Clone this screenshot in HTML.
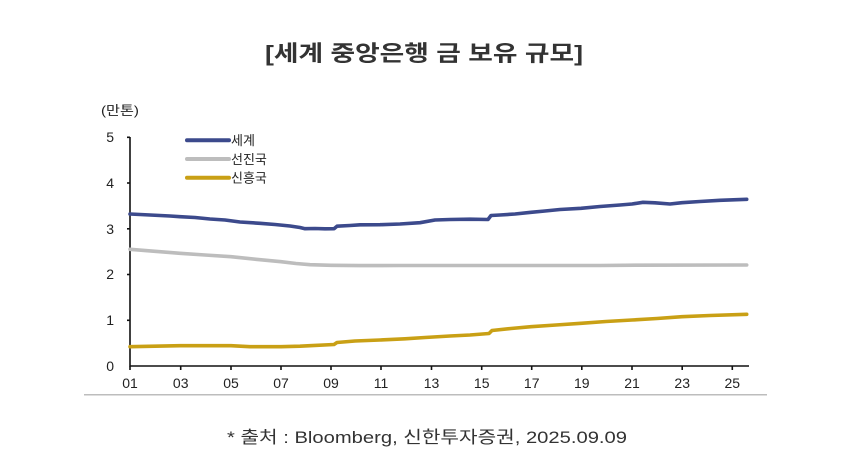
<!DOCTYPE html>
<html>
<head>
<meta charset="utf-8">
<style>
  html,body{margin:0;padding:0;background:#fff;}
  svg{display:block;}
  text{font-family:"Liberation Sans","Noto Sans CJK KR",sans-serif;}
</style>
</head>
<body>
<svg width="854" height="469" viewBox="0 0 854 469" xmlns="http://www.w3.org/2000/svg">
  <rect width="854" height="469" fill="#fff"/>
  <!-- Title -->
  <text x="265" y="61" font-size="22" font-weight="bold" fill="#333" textLength="318" lengthAdjust="spacingAndGlyphs">[세계 중앙은행 금 보유 규모]</text>

  <!-- unit label -->
  <text x="101" y="115" font-size="13" fill="#222" textLength="38" lengthAdjust="spacingAndGlyphs">(만톤)</text>

  <!-- Y tick labels -->
  <g font-size="14" fill="#222" text-anchor="end">
    <text x="114" y="142">5</text>
    <text x="114" y="188">4</text>
    <text x="114" y="234">3</text>
    <text x="114" y="279">2</text>
    <text x="114" y="325">1</text>
    <text x="114" y="371">0</text>
  </g>

  <!-- X tick labels -->
  <g font-size="14" fill="#222" text-anchor="middle">
    <text x="130" y="388">01</text>
    <text x="180.7" y="388">03</text>
    <text x="231" y="388">05</text>
    <text x="281" y="388">07</text>
    <text x="331" y="388">09</text>
    <text x="381" y="388">11</text>
    <text x="431.5" y="388">13</text>
    <text x="481.7" y="388">15</text>
    <text x="531.7" y="388">17</text>
    <text x="581.8" y="388">19</text>
    <text x="632" y="388">21</text>
    <text x="682.2" y="388">23</text>
    <text x="732.3" y="388">25</text>
  </g>

  <!-- Axes -->
  <g stroke="#111" stroke-width="1.6" fill="none">
    <line x1="130" y1="137" x2="130" y2="366.5"/>
    <line x1="129.5" y1="366" x2="749" y2="366"/>
    <!-- y ticks -->
    <line x1="127" y1="137.3" x2="130" y2="137.3"/>
    <line x1="127" y1="183" x2="130" y2="183"/>
    <line x1="127" y1="228.8" x2="130" y2="228.8"/>
    <line x1="127" y1="274.5" x2="130" y2="274.5"/>
    <line x1="127" y1="320.3" x2="130" y2="320.3"/>
    <!-- x ticks -->
    <line x1="130" y1="366" x2="130" y2="370"/>
    <line x1="180.7" y1="366" x2="180.7" y2="370"/>
    <line x1="231" y1="366" x2="231" y2="370"/>
    <line x1="281" y1="366" x2="281" y2="370"/>
    <line x1="331" y1="366" x2="331" y2="370"/>
    <line x1="381" y1="366" x2="381" y2="370"/>
    <line x1="431.5" y1="366" x2="431.5" y2="370"/>
    <line x1="481.7" y1="366" x2="481.7" y2="370"/>
    <line x1="531.7" y1="366" x2="531.7" y2="370"/>
    <line x1="581.8" y1="366" x2="581.8" y2="370"/>
    <line x1="632" y1="366" x2="632" y2="370"/>
    <line x1="682.2" y1="366" x2="682.2" y2="370"/>
    <line x1="732.3" y1="366" x2="732.3" y2="370"/>
  </g>

  <!-- Series -->
  <g fill="none" stroke-width="3.6" stroke-linejoin="round" stroke-linecap="round">
    <polyline stroke="#BDBDBD" points="130,249.3 155,251.3 180,253.3 205,255 231,256.7 256,259.3 281,261.7 296,263.5 310,264.7 331,265.3 360,265.6 400,265.5 500,265.5 600,265.5 640,265.2 746.7,265"/>
    <polyline stroke="#3C4A8C" points="130,214 140,214.5 150,215 160,215.5 170,216 180,216.7 195,217.5 210,219 225,220 240,222 260,223.3 275,224.5 290,226 300,227.5 305,228.7 315,228.5 325,228.8 334,228.7 337,226.2 350,225.5 360,224.8 380,224.7 400,224 420,222.7 435,220 450,219.5 470,219.2 488,219.5 491,215.5 500,215 515,214 531,212.3 545,211 560,209.5 581,208.3 600,206.5 620,205 632,204 643,202.3 655,202.8 670,204 682,202.7 700,201.5 720,200.3 746.7,199.3"/>
    <polyline stroke="#C9A015" points="130,346.7 155,346.2 180,345.7 205,345.7 231,345.7 250,346.7 281,346.7 300,346.2 310,345.7 334,344.5 337,342.5 355,341 380,340 405,338.8 425,337.5 450,336 470,335 489,333.5 492,330.5 511,328.5 531,326.7 556,325 581,323.3 606,321.5 632,320 657,318.5 682,316.7 710,315.5 746.7,314.3"/>
  </g>

  <!-- Legend -->
  <g stroke-width="4" stroke-linecap="round">
    <line x1="187" y1="140.3" x2="229" y2="140.3" stroke="#3C4A8C"/>
    <line x1="187" y1="159" x2="229" y2="159" stroke="#BDBDBD"/>
    <line x1="187" y1="177.7" x2="229" y2="177.7" stroke="#C9A015"/>
  </g>
  <g font-size="13" fill="#222">
    <text x="231" y="145">세계</text>
    <text x="231" y="164">선진국</text>
    <text x="231" y="182.5">신흥국</text>
  </g>

  <!-- separator -->
  <line x1="84" y1="394.7" x2="767" y2="394.7" stroke="#BDBDBD" stroke-width="1.5"/>

  <!-- Footer -->
  <text x="227" y="443" font-size="17" fill="#333" textLength="400" lengthAdjust="spacingAndGlyphs">* 출처 : Bloomberg, 신한투자증권, 2025.09.09</text>
</svg>
</body>
</html>
